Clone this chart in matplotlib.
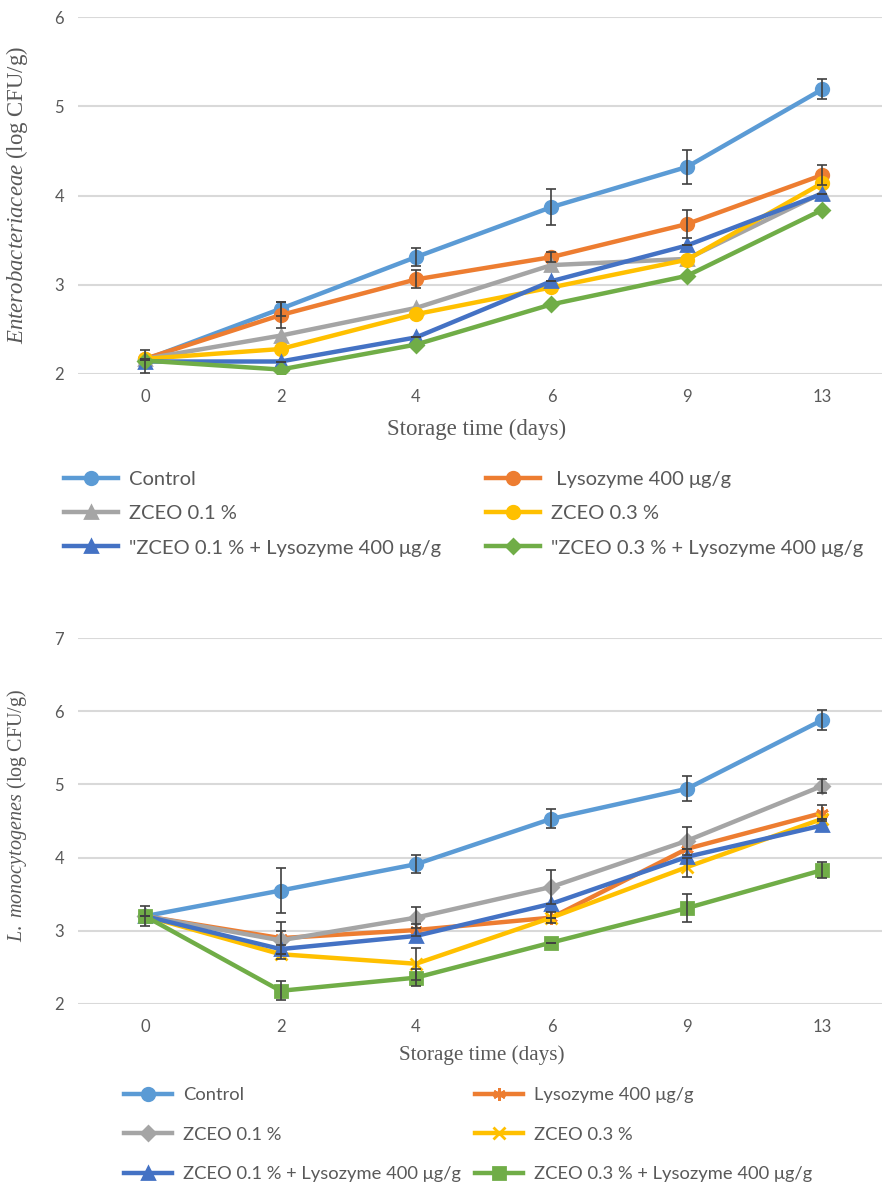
import numpy as np
import matplotlib.pyplot as plt

plt.rcParams['mathtext.fontset'] = 'custom'
plt.rcParams['mathtext.it'] = 'Liberation Serif:italic'
plt.rcParams['mathtext.rm'] = 'Liberation Serif'

days = ['0', '2', '4', '6', '9', '13']
names_top = ['Control', ' Lysozyme 400 μg/g', 'ZCEO 0.1 %', 'ZCEO 0.3 %',
             '"ZCEO 0.1 % + Lysozyme 400 μg/g', '"ZCEO 0.3 % + Lysozyme 400 μg/g']
names_bot = ['Control', 'Lysozyme 400 μg/g', 'ZCEO 0.1 %', 'ZCEO 0.3 %',
             'ZCEO 0.1 % + Lysozyme 400 μg/g', 'ZCEO 0.3 % + Lysozyme 400 μg/g']

# Enterobacteriaceae
ent_control = [2.16, 2.73, 3.31, 3.87, 4.32, 5.19]
ent_lys = [2.17, 2.66, 3.06, 3.31, 3.68, 4.23]
ent_z1 = [2.17, 2.43, 2.74, 3.22, 3.29, 4.03]
ent_z3 = [2.17, 2.28, 2.67, 2.97, 3.28, 4.14]
ent_z1lys = [2.14, 2.14, 2.41, 3.04, 3.44, 4.02]
ent_z3lys = [2.15, 2.05, 2.33, 2.78, 3.10, 3.84]
ent_err_control = [0.0, 0.08, 0.10, 0.20, 0.19, 0.11]
ent_err_lys = [0.0, 0.15, 0.10, 0.06, 0.16, 0.11]
ent_err_z1lys = [0.13, 0.0, 0.0, 0.0, 0.0, 0.0]

# L. monocytogenes
lm_control = [3.20, 3.55, 3.91, 4.53, 4.94, 5.88]
lm_lys = [3.20, 2.90, 3.01, 3.18, 4.12, 4.61]
lm_z1 = [3.20, 2.87, 3.18, 3.60, 4.23, 4.98]
lm_z3 = [3.20, 2.68, 2.55, 3.18, 3.87, 4.53]
lm_z1lys = [3.20, 2.75, 2.93, 3.37, 4.01, 4.44]
lm_z3lys = [3.20, 2.18, 2.36, 2.84, 3.31, 3.83]
lm_err_control = [0.0, 0.31, 0.12, 0.13, 0.17, 0.13]
lm_err_lys = [0.0, 0.10, 0.08, 0.08, 0.0, 0.11]
lm_err_z1 = [0.0, 0.25, 0.14, 0.23, 0.19, 0.10]
lm_err_z3 = [0.0, 0.0, 0.22, 0.0, 0.13, 0.0]
lm_err_z3lys = [0.14, 0.13, 0.12, 0.0, 0.19, 0.11]

colors = ['#5B9BD5', '#ED7D31', '#A5A5A5', '#FFC000', '#4472C4', '#70AD47']
mk_top = ['o', 'o', '^', 'o', '^', 'D']
mk_bot = ['o', (6, 2, 0), 'D', 'x', '^', 's']
ms_top = [9, 9, 9, 9, 9, 7]
ms_bot = [9, 9, 7, 9, 9, 8]

W, H = 882, 1184
fig = plt.figure(figsize=(W / 100, H / 100), dpi=100)

def px_axes(top, bottom):
    return fig.add_axes([78 / W, 1 - bottom / H, (W - 78) / W, (bottom - top) / H])

ax1 = px_axes(17, 374)
ax2 = px_axes(638, 1004)
x = np.arange(len(days))
tick_font = ['Lato', 'DejaVu Sans']
gray_txt = '#595959'

def style(ax, ylim):
    ax.set_xlim(-0.495, 5.44)
    ax.set_ylim(*ylim)
    ax.set_yticks(np.arange(ylim[0], ylim[1] + 1))
    ax.set_xticks(x)
    ax.set_xticklabels(days)
    for s in ax.spines.values():
        s.set_visible(False)
    ax.grid(axis='y', color='#D9D9D9', lw=1.5)
    ax.set_axisbelow(True)
    ax.tick_params(length=0, colors=gray_txt, labelsize=12)
    ax.tick_params(axis='y', pad=10)
    ax.tick_params(axis='x', pad=11)
    for lab in ax.get_xticklabels() + ax.get_yticklabels():
        lab.set_fontfamily(tick_font)

def draw(ax, series, errs, markers, sizes):
    handles = []
    for i, ys in enumerate(series):
        h, = ax.plot(x, ys, color=colors[i], lw=3.2, marker=markers[i], ms=sizes[i],
                     mfc=colors[i], mec=colors[i], mew=2, zorder=3 + i)
        handles.append(h)
    for i, e in errs.items():
        ax.errorbar(x, series[i], yerr=e, fmt='none', ecolor='#404040', elinewidth=1.2,
                    capsize=3.5, capthick=1.2, zorder=10)
    return handles

h1 = draw(ax1, [ent_control, ent_lys, ent_z1, ent_z3, ent_z1lys, ent_z3lys],
          {0: ent_err_control, 1: ent_err_lys, 4: ent_err_z1lys}, mk_top, ms_top)
style(ax1, (2, 6))
h2 = draw(ax2, [lm_control, lm_lys, lm_z1, lm_z3, lm_z1lys, lm_z3lys],
          {0: lm_err_control, 1: lm_err_lys, 2: lm_err_z1, 3: lm_err_z3, 5: lm_err_z3lys},
          mk_bot, ms_bot)
style(ax2, (2, 7))

fig.text(477 / W, 1 - 429 / H, 'Storage time (days)', family='Liberation Serif',
         fontsize=16.5, color=gray_txt, ha='center', va='center')
fig.text(482 / W, 1 - 1055 / H, 'Storage time (days)', family='Liberation Serif',
         fontsize=15.2, color=gray_txt, ha='center', va='center')
fig.text(17 / W, 1 - 195 / H, r'$\mathit{Enterobacteriaceae}$ (log CFU/g)',
         family='Liberation Serif', fontsize=16.4, color=gray_txt, rotation=90,
         ha='center', va='center')
fig.text(17 / W, 1 - 815 / H, r'$\mathit{L.\ monocytogenes}$ (log CFU/g)',
         family='Liberation Serif', fontsize=14.5, color=gray_txt, rotation=90,
         ha='center', va='center')

def legend_col(handles, labels, x0, y0, size, hlen, pad, spacing):
    leg = fig.legend(handles, labels, loc='upper left', bbox_to_anchor=(x0 / W, 1 - y0 / H),
                     frameon=False, borderpad=0, borderaxespad=0, numpoints=1,
                     handlelength=hlen, handletextpad=pad, labelspacing=spacing,
                     prop={'family': tick_font, 'size': size})
    for t in leg.get_texts():
        t.set_color(gray_txt)
    return leg

legend_col([h1[0], h1[2], h1[4]], [names_top[0], names_top[2], names_top[4]],
           64, 471, 14.5, 2.69, 0.55, 0.85)
legend_col([h1[1], h1[3], h1[5]], [names_top[1], names_top[3], names_top[5]],
           486, 471, 14.5, 2.69, 0.55, 0.85)
legend_col([h2[0], h2[2], h2[4]], [names_bot[0], names_bot[2], names_bot[4]],
           124, 1087, 13.2, 2.62, 0.6, 1.29)
legend_col([h2[1], h2[3], h2[5]], [names_bot[1], names_bot[3], names_bot[5]],
           475, 1087, 13.2, 2.62, 0.6, 1.29)

fig.savefig('out.png', dpi=100)
